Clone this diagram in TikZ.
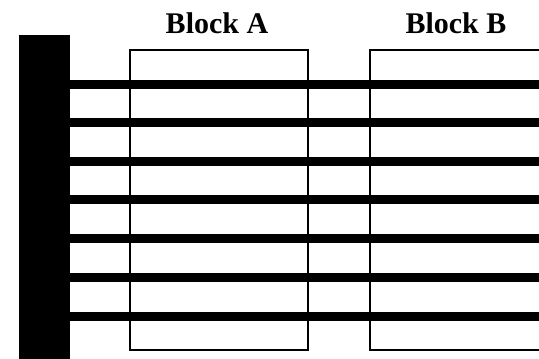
\documentclass[tikz,border=0pt]{standalone}
\usepackage{fontspec}
\setmainfont{Liberation Serif}
\begin{document}
\begin{tikzpicture}[x=1pt,y=-1pt,
  busbar/.style={draw=none,fill=black,rectangle,inner sep=0pt,
    minimum width=51pt,minimum height=326pt},
  blockbox/.style={draw=black,line width=2pt,rectangle,inner sep=0pt,
    minimum height=300pt},
  blocklabel/.style={anchor=base,inner sep=0pt,
    font=\fontsize{30}{36}\selectfont\bfseries},
  wire/.style={line width=9pt,black}]
  \useasboundingbox (0,0) rectangle (539,359);
  \clip (0,0) rectangle (539,359);

  % the two blocks
  \node[blockbox,minimum width=178pt] (blockA) at (219,200) {};
  \node[blockbox,minimum width=190pt] (blockB) at (465,200) {};

  % block titles
  \node[blocklabel] (labelA) at (217,33) {Block A};
  \node[blocklabel] (labelB) at (456,33) {Block B};

  % vertical bus bar on the left
  \node[busbar] (bar) at (44.5,198) {};

  % horizontal lines leaving the bar and crossing both blocks
  \foreach \i/\y in {1/84,2/122,3/161,4/199,5/238,6/277,7/316}{
    \coordinate (end\i) at (539,\y);
    \draw[wire] (bar.east |- end\i) -- (end\i);
  }
\end{tikzpicture}
\end{document}
